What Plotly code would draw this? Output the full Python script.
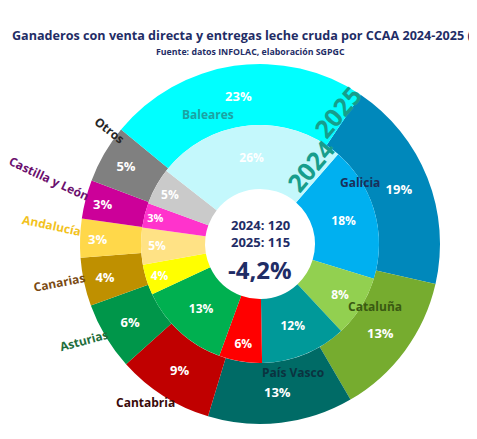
import plotly.graph_objects as go

# page body has an 8px margin: the figure is drawn 8px in from the top-left
OFF = 8
W, H = 477 - OFF, 439 - OFF

regions = ["Galicia", "Cataluña", "País Vasco", "Cantabria", "Asturias",
           "Canarias", "Andalucía", "Castilla y León", "Otros", "Baleares"]
v2024 = [22, 10, 14, 7, 15, 5, 6, 4, 6, 31]
v2025 = [22, 15, 15, 10, 7, 5, 4, 4, 6, 27]

col2024 = ["#00B0F0", "#92D050", "#009999", "#FF0000", "#00B050",
           "#FFFF00", "#FFE285", "#FF33CC", "#CACACA", "#C4F8FC"]
col2025 = ["#0088BB", "#76AC2F", "#006B66", "#C00000", "#00964A",
           "#BF9000", "#FFD84A", "#CC0099", "#808080", "#00FFFF"]

t24, t25 = sum(v2024), sum(v2025)
pct24 = ["<b>%d%%</b>" % int(v * 100 / t24 + 0.5) for v in v2024]
pct25 = ["<b>%d%%</b>" % int(v * 100 / t25 + 0.5) for v in v2025]
change = (t25 - t24) / t24 * 100

# geometry (screen pixels)
CX, CY = 260, 244
R_OUT, R_IN, R_HOLE = 180, 119, 55


def px(x):
    return (x - OFF) / W


def py(y):
    return 1 - (y - OFF) / H


FONT = "Open Sans"
NAVY = "#1F2D66"

fig = go.Figure()
fig.add_trace(go.Pie(
    labels=regions, values=v2025, text=pct25, textinfo="text",
    sort=False, direction="clockwise", rotation=34,
    hole=R_IN / R_OUT,
    marker=dict(colors=col2025, line=dict(width=0)),
    textposition="inside", insidetextorientation="horizontal",
    textfont=dict(family=FONT, size=13, color="white"),
    domain=dict(x=[px(CX - R_OUT), px(CX + R_OUT)], y=[py(CY + R_OUT), py(CY - R_OUT)]),
    showlegend=False, hoverinfo="label+value",
))
fig.add_trace(go.Pie(
    labels=regions, values=v2024, text=pct24, textinfo="text",
    sort=False, direction="clockwise", rotation=41,
    hole=R_HOLE / R_IN,
    marker=dict(colors=col2024, line=dict(width=0)),
    textposition="inside", insidetextorientation="horizontal",
    textfont=dict(family=FONT, size=12, color="white"),
    domain=dict(x=[px(CX - R_IN), px(CX + R_IN)], y=[py(CY + R_IN), py(CY - R_IN)]),
    showlegend=False, hoverinfo="label+value",
))

ann = []
# title and subtitle
ann.append(dict(x=px(10), y=py(36), xanchor="left", yanchor="middle",
                text="<b>Ganaderos con venta directa y entregas leche cruda por CCAA 2024-2025 (%)</b>",
                font=dict(family=FONT, size=12.6, color=NAVY), showarrow=False))
ann.append(dict(x=px(250), y=py(52),
                text="<b>Fuente: datos INFOLAC, elaboración SGPGC</b>",
                font=dict(family=FONT, size=8.8, color=NAVY), showarrow=False))

# center text
ann.append(dict(x=px(CX), y=py(225), text="<b>2024: %d</b>" % t24, showarrow=False,
                font=dict(family=FONT, size=13, color=NAVY)))
ann.append(dict(x=px(CX), y=py(242), text="<b>2025: %d</b>" % t25, showarrow=False,
                font=dict(family=FONT, size=13, color=NAVY)))
ann.append(dict(x=px(CX), y=py(269), text="<b>%s%%</b>" % ("%.1f" % change).replace(".", ","),
                showarrow=False, font=dict(family=FONT, size=24, color=NAVY)))

# year labels along the ring boundary
ann.append(dict(x=px(310), y=py(166), text="<b>2024</b>", textangle=-50, showarrow=False,
                font=dict(family=FONT, size=25, color="#179E8C")))
ann.append(dict(x=px(337), y=py(112), text="<b>2025</b>", textangle=-50, showarrow=False,
                font=dict(family=FONT, size=25, color="#179E8C")))

# region labels: (name, x, y, angle, color)
labels_pos = [
    ("Galicia", 360, 182, 0, "#1A2F5A"),
    ("Baleares", 208, 115, 0, "#1BA3A3"),
    ("Cataluña", 375, 306, 0, "#3A5A12"),
    ("País Vasco", 293, 372, 0, "#0B3340"),
    ("Cantabria", 145, 402, 0, "#3A0A0A"),
    ("Asturias", 84, 340, -15, "#1E6E3C"),
    ("Canarias", 59, 282, -11, "#7A4A12"),
    ("Andalucía", 52, 225, 12, "#F2C21E"),
    ("Castilla y León", 49, 178, 25, "#6B0F6E"),
    ("Otros", 110, 130, 38, "#262626"),
]
for name, x, y, a, c in labels_pos:
    ann.append(dict(x=px(x), y=py(y), text="<b>%s</b>" % name, textangle=a, showarrow=False,
                    font=dict(family=FONT, size=12, color=c)))

for a in ann:
    a.setdefault("xref", "paper")
    a.setdefault("yref", "paper")
    a.setdefault("xanchor", "center")
    a.setdefault("yanchor", "middle")

fig.update_layout(
    width=W, height=H, margin=dict(l=0, r=0, t=0, b=0),
    paper_bgcolor="white", plot_bgcolor="white",
    annotations=ann,
)
fig.write_html("out.html")
